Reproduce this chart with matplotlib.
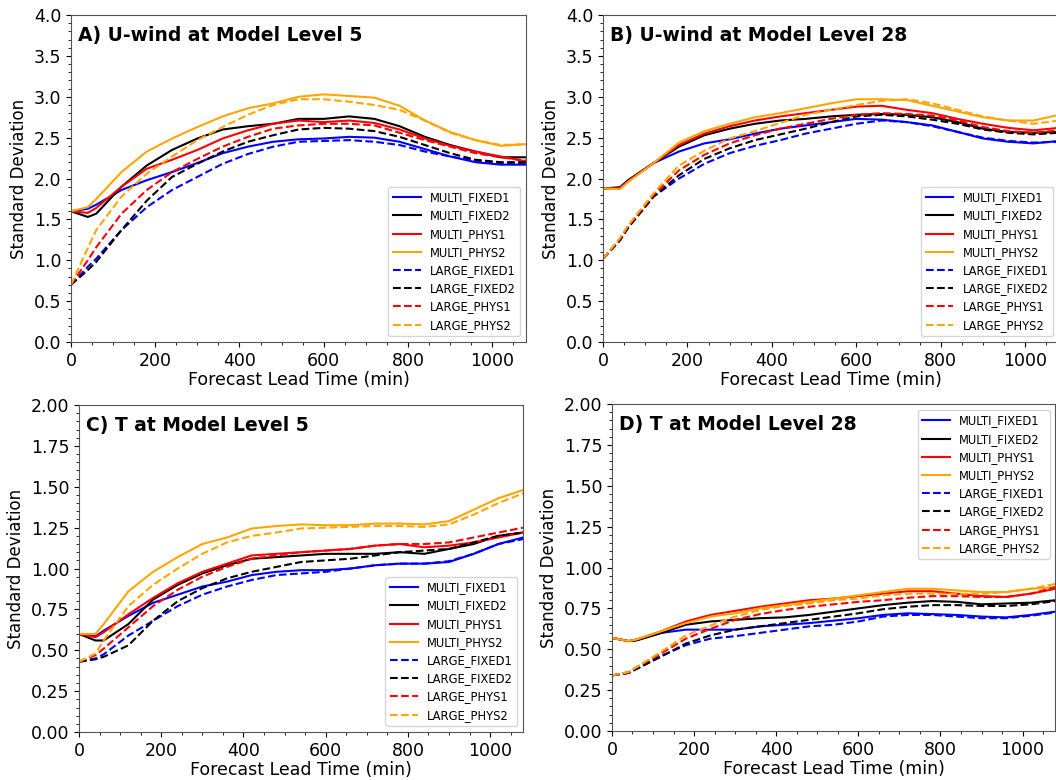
import matplotlib
matplotlib.use("Agg")
import matplotlib.pyplot as plt
from matplotlib.ticker import MultipleLocator

times = [0, 40, 60, 120, 180, 240, 300, 360, 420, 480, 540, 600,
         660, 720, 780, 840, 900, 960, 1020, 1080]

labels = ["MULTI_FIXED1", "MULTI_FIXED2", "MULTI_PHYS1", "MULTI_PHYS2",
          "LARGE_FIXED1", "LARGE_FIXED2", "LARGE_PHYS1", "LARGE_PHYS2"]
colors = ["blue", "black", "red", "orange"] * 2
styles = ["-"] * 4 + ["--"] * 4

# A) U-wind, model level 5
uwind_l5 = [
    [1.60, 1.63, 1.68, 1.86, 1.98, 2.08, 2.19, 2.31, 2.39, 2.45, 2.48, 2.49, 2.51, 2.50, 2.45, 2.36, 2.27, 2.20, 2.17, 2.17],
    [1.60, 1.53, 1.57, 1.90, 2.16, 2.35, 2.49, 2.60, 2.64, 2.67, 2.73, 2.73, 2.76, 2.73, 2.64, 2.51, 2.41, 2.33, 2.26, 2.26],
    [1.60, 1.58, 1.64, 1.90, 2.12, 2.23, 2.35, 2.49, 2.59, 2.67, 2.71, 2.69, 2.71, 2.68, 2.60, 2.49, 2.40, 2.33, 2.27, 2.21],
    [1.60, 1.65, 1.75, 2.08, 2.33, 2.49, 2.63, 2.76, 2.86, 2.92, 3.00, 3.03, 3.01, 2.99, 2.89, 2.71, 2.57, 2.47, 2.40, 2.42],
    [0.70, 0.92, 1.02, 1.37, 1.65, 1.86, 2.02, 2.18, 2.30, 2.39, 2.45, 2.46, 2.47, 2.45, 2.41, 2.33, 2.27, 2.22, 2.19, 2.19],
    [0.70, 0.88, 0.98, 1.37, 1.73, 2.02, 2.18, 2.33, 2.45, 2.53, 2.60, 2.62, 2.61, 2.58, 2.51, 2.41, 2.31, 2.23, 2.20, 2.20],
    [0.70, 1.00, 1.16, 1.57, 1.86, 2.08, 2.24, 2.39, 2.51, 2.61, 2.65, 2.67, 2.67, 2.65, 2.56, 2.47, 2.39, 2.31, 2.26, 2.22],
    [0.70, 1.15, 1.37, 1.78, 2.06, 2.27, 2.47, 2.63, 2.78, 2.90, 2.97, 2.97, 2.94, 2.90, 2.84, 2.71, 2.56, 2.47, 2.41, 2.42],
]

# B) U-wind, model level 28
uwind_l28 = [
    [1.88, 1.89, 1.98, 2.19, 2.33, 2.43, 2.48, 2.55, 2.61, 2.65, 2.69, 2.73, 2.72, 2.69, 2.65, 2.57, 2.49, 2.45, 2.43, 2.46],
    [1.88, 1.89, 1.98, 2.19, 2.39, 2.53, 2.61, 2.67, 2.71, 2.73, 2.76, 2.78, 2.79, 2.78, 2.75, 2.69, 2.61, 2.57, 2.56, 2.57],
    [1.88, 1.88, 1.97, 2.19, 2.41, 2.55, 2.64, 2.71, 2.76, 2.80, 2.84, 2.88, 2.89, 2.84, 2.80, 2.73, 2.67, 2.62, 2.59, 2.62],
    [1.88, 1.87, 1.96, 2.19, 2.44, 2.58, 2.67, 2.75, 2.80, 2.86, 2.92, 2.97, 2.97, 2.96, 2.89, 2.82, 2.75, 2.71, 2.71, 2.78],
    [1.02, 1.25, 1.41, 1.78, 2.00, 2.18, 2.31, 2.40, 2.47, 2.55, 2.61, 2.67, 2.71, 2.69, 2.64, 2.57, 2.50, 2.46, 2.44, 2.45],
    [1.02, 1.24, 1.40, 1.78, 2.04, 2.24, 2.37, 2.47, 2.54, 2.61, 2.69, 2.76, 2.78, 2.76, 2.72, 2.67, 2.60, 2.56, 2.54, 2.56],
    [1.02, 1.26, 1.42, 1.80, 2.10, 2.29, 2.43, 2.53, 2.61, 2.67, 2.73, 2.78, 2.80, 2.79, 2.77, 2.71, 2.63, 2.58, 2.56, 2.59],
    [1.02, 1.27, 1.43, 1.82, 2.16, 2.34, 2.49, 2.58, 2.68, 2.78, 2.84, 2.90, 2.95, 2.97, 2.92, 2.84, 2.76, 2.71, 2.67, 2.71],
]

# C) T, model level 5
temp_l5 = [
    [0.60, 0.585, 0.62, 0.71, 0.79, 0.84, 0.89, 0.92, 0.96, 0.98, 0.99, 0.99, 1.00, 1.02, 1.03, 1.03, 1.04, 1.09, 1.15, 1.19],
    [0.60, 0.56, 0.56, 0.66, 0.81, 0.90, 0.97, 1.02, 1.06, 1.07, 1.08, 1.09, 1.09, 1.09, 1.10, 1.09, 1.12, 1.15, 1.20, 1.22],
    [0.60, 0.58, 0.61, 0.72, 0.82, 0.91, 0.98, 1.03, 1.08, 1.09, 1.10, 1.11, 1.12, 1.14, 1.15, 1.13, 1.14, 1.16, 1.19, 1.22],
    [0.60, 0.60, 0.66, 0.86, 0.98, 1.07, 1.15, 1.19, 1.245, 1.26, 1.27, 1.265, 1.265, 1.275, 1.275, 1.27, 1.29, 1.36, 1.43, 1.48],
    [0.43, 0.45, 0.475, 0.59, 0.68, 0.77, 0.84, 0.89, 0.93, 0.96, 0.97, 0.98, 1.00, 1.02, 1.03, 1.03, 1.045, 1.09, 1.15, 1.18],
    [0.43, 0.445, 0.46, 0.53, 0.68, 0.80, 0.88, 0.94, 0.98, 1.01, 1.04, 1.05, 1.06, 1.08, 1.10, 1.11, 1.12, 1.16, 1.20, 1.22],
    [0.43, 0.47, 0.51, 0.64, 0.77, 0.87, 0.95, 1.01, 1.06, 1.08, 1.10, 1.11, 1.12, 1.14, 1.15, 1.15, 1.16, 1.19, 1.22, 1.25],
    [0.43, 0.48, 0.56, 0.77, 0.90, 1.00, 1.09, 1.16, 1.20, 1.22, 1.245, 1.25, 1.255, 1.26, 1.26, 1.255, 1.27, 1.33, 1.40, 1.46],
]

# D) T, model level 28
temp_l28 = [
    [0.57, 0.55, 0.555, 0.60, 0.62, 0.62, 0.62, 0.64, 0.65, 0.66, 0.675, 0.69, 0.71, 0.72, 0.715, 0.71, 0.70, 0.695, 0.71, 0.73],
    [0.57, 0.55, 0.555, 0.60, 0.65, 0.67, 0.68, 0.69, 0.695, 0.71, 0.73, 0.75, 0.77, 0.785, 0.795, 0.79, 0.775, 0.78, 0.785, 0.80],
    [0.57, 0.55, 0.56, 0.61, 0.67, 0.71, 0.735, 0.76, 0.78, 0.80, 0.81, 0.825, 0.84, 0.855, 0.855, 0.84, 0.825, 0.82, 0.84, 0.87],
    [0.57, 0.55, 0.56, 0.61, 0.66, 0.70, 0.72, 0.75, 0.77, 0.79, 0.81, 0.83, 0.85, 0.87, 0.87, 0.86, 0.85, 0.85, 0.87, 0.88],
    [0.34, 0.355, 0.38, 0.46, 0.525, 0.565, 0.58, 0.60, 0.62, 0.64, 0.65, 0.67, 0.70, 0.71, 0.71, 0.70, 0.69, 0.69, 0.705, 0.725],
    [0.34, 0.355, 0.38, 0.455, 0.535, 0.585, 0.62, 0.64, 0.66, 0.68, 0.70, 0.72, 0.745, 0.76, 0.77, 0.77, 0.765, 0.765, 0.775, 0.795],
    [0.34, 0.36, 0.39, 0.475, 0.565, 0.625, 0.68, 0.715, 0.74, 0.76, 0.775, 0.79, 0.80, 0.815, 0.825, 0.825, 0.82, 0.82, 0.84, 0.88],
    [0.34, 0.36, 0.39, 0.485, 0.585, 0.645, 0.70, 0.74, 0.765, 0.78, 0.80, 0.81, 0.83, 0.84, 0.84, 0.84, 0.84, 0.85, 0.87, 0.90],
]


def draw_panel(ax, series, title, ymax, ystep, yminor, legend_loc):
    for vals, lab, c, ls in zip(series, labels, colors, styles):
        ax.plot(times, vals, color=c, linestyle=ls, lw=1.5, label=lab)
    ax.set_xlim(0, 1080)
    ax.set_ylim(0, ymax)
    ax.xaxis.set_major_locator(MultipleLocator(200))
    ax.xaxis.set_minor_locator(MultipleLocator(50))
    ax.yaxis.set_major_locator(MultipleLocator(ystep))
    ax.yaxis.set_minor_locator(MultipleLocator(yminor))
    ax.tick_params(labelsize=12.5)
    for s in ax.spines.values():
        s.set_color("#555555")
    ax.set_xlabel("Forecast Lead Time (min)", fontsize=12.5, labelpad=1)
    ax.set_ylabel("Standard Deviation", fontsize=12)
    ax.text(0.015, 0.965, title, transform=ax.transAxes, fontsize=13.5,
            fontweight="heavy", va="top", ha="left")
    ax.legend(loc=legend_loc, fontsize=8.3, handlelength=2.4,
              labelspacing=0.45, borderaxespad=0.5)


def main():
    fig = plt.figure(figsize=(10.56, 7.8), dpi=100)
    ax_a = fig.add_axes([0.0672, 0.5615, 0.4309, 0.4192])
    ax_b = fig.add_axes([0.5710, 0.5615, 0.4318, 0.4192])
    ax_c = fig.add_axes([0.0748, 0.0615, 0.4205, 0.4192])
    ax_d = fig.add_axes([0.5795, 0.0628, 0.4200, 0.4192])

    draw_panel(ax_a, uwind_l5, "A) U-wind at Model Level 5", 4.0, 0.5, 0.1, "lower right")
    draw_panel(ax_b, uwind_l28, "B) U-wind at Model Level 28", 4.0, 0.5, 0.1, "lower right")
    draw_panel(ax_c, temp_l5, "C) T at Model Level 5", 2.0, 0.25, 0.05, "lower right")
    draw_panel(ax_d, temp_l28, "D) T at Model Level 28", 2.0, 0.25, 0.05, "upper right")

    fig.savefig("out.png", dpi=100)


if __name__ == "__main__":
    main()
